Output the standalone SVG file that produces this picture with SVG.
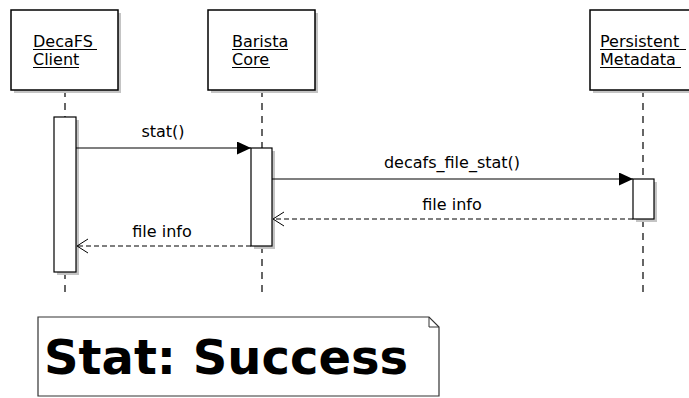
<svg xmlns="http://www.w3.org/2000/svg" width="689" height="398" viewBox="0 0 689 398">
  <style>
    .txt { font-family: "DejaVu Sans", "Liberation Sans", sans-serif; font-size: 16px; fill: #000; }
    .head { fill: #fff; stroke: #000; stroke-width: 1.5; }
    .shadow { fill: #c4c4c4; }
    .act { fill: #fff; stroke: #000; stroke-width: 1.2; }
    .life { stroke: #000; stroke-width: 1.2; stroke-dasharray: 7 6; fill: none; }
    .msg { stroke: #000; stroke-width: 1.2; fill: none; }
    .ret { stroke: #000; stroke-width: 1.2; stroke-dasharray: 5 3; fill: none; }
    .ul { stroke: #000; stroke-width: 1; }
  </style>
  <defs>
    <marker id="filled" markerWidth="14" markerHeight="13" refX="14" refY="6.5" orient="auto" markerUnits="userSpaceOnUse">
      <path d="M0,0 L14,6.5 L0,13 Z" fill="#000"/>
    </marker>
    <marker id="open" markerWidth="13" markerHeight="16" refX="12" refY="8" orient="auto" markerUnits="userSpaceOnUse">
      <path d="M1,1 L12,8 L1,15" fill="none" stroke="#000" stroke-width="1"/>
    </marker>
  </defs>
  <rect width="689" height="398" fill="#fff"/>

  <!-- lifelines -->
  <g id="lifelines">
    <line class="life" x1="65" y1="90" x2="65" y2="298"/>
    <line class="life" x1="262" y1="90" x2="262" y2="298"/>
    <line class="life" x1="643" y1="90" x2="643" y2="298"/>
  </g>

  <!-- participant heads -->
  <g id="decafs-client">
    <rect class="shadow" x="14" y="13" width="107" height="80"/>
    <rect class="head" x="11" y="10" width="107" height="80"/>
    <text class="txt" x="33" y="47">DecaFS</text>
    <text class="txt" x="33" y="65">Client</text>
    <line class="ul" x1="33" y1="49.5" x2="97" y2="49.5"/>
    <line class="ul" x1="33" y1="67.5" x2="79" y2="67.5"/>
  </g>
  <g id="barista-core">
    <rect class="shadow" x="211" y="13" width="107" height="80"/>
    <rect class="head" x="208" y="10" width="107" height="80"/>
    <text class="txt" x="232" y="47">Barista</text>
    <text class="txt" x="232" y="65">Core</text>
    <line class="ul" x1="232" y1="49.5" x2="288" y2="49.5"/>
    <line class="ul" x1="232" y1="67.5" x2="270" y2="67.5"/>
  </g>
  <g id="persistent-metadata">
    <rect class="shadow" x="593" y="13" width="107" height="80"/>
    <rect class="head" x="590" y="10" width="107" height="80"/>
    <text class="txt" x="600" y="47">Persistent</text>
    <text class="txt" x="600" y="65">Metadata</text>
    <line class="ul" x1="600" y1="49.5" x2="686" y2="49.5"/>
    <line class="ul" x1="600" y1="67.5" x2="681" y2="67.5"/>
  </g>

  <!-- activation bars -->
  <g id="activations">
    <rect class="shadow" x="57" y="120" width="22" height="155"/>
    <rect class="act" x="54" y="117" width="22" height="155"/>
    <rect class="shadow" x="254" y="151" width="21" height="98"/>
    <rect class="act" x="251" y="148" width="21" height="98"/>
    <rect class="shadow" x="636" y="182" width="21" height="40"/>
    <rect class="act" x="633" y="179" width="21" height="40"/>
  </g>

  <!-- messages -->
  <g id="connectors">
    <line class="msg" x1="76" y1="148" x2="251" y2="148" marker-end="url(#filled)"/>
    <text class="txt" x="163" y="137" text-anchor="middle">stat()</text>
    <line class="msg" x1="272" y1="179" x2="633" y2="179" marker-end="url(#filled)"/>
    <text class="txt" x="452" y="168" text-anchor="middle">decafs_file_stat()</text>
    <line class="ret" x1="633" y1="219" x2="273" y2="219" marker-end="url(#open)"/>
    <text class="txt" x="452" y="210" text-anchor="middle">file info</text>
    <line class="ret" x1="251" y1="246" x2="77" y2="246" marker-end="url(#open)"/>
    <text class="txt" x="162" y="237" text-anchor="middle">file info</text>
  </g>

  <!-- note -->
  <g id="note">
    <path d="M38,317 L429,317 L439,327 L439,396 L38,396 Z" fill="#fff" stroke="#333" stroke-width="1.2"/>
    <path d="M429,317 L429,327 L439,327" fill="none" stroke="#333" stroke-width="1"/>
    <text x="44" y="374" font-family="'DejaVu Sans', 'Liberation Sans', sans-serif" font-size="48" font-weight="bold" fill="#000">Stat: Success</text>
  </g>
</svg>
